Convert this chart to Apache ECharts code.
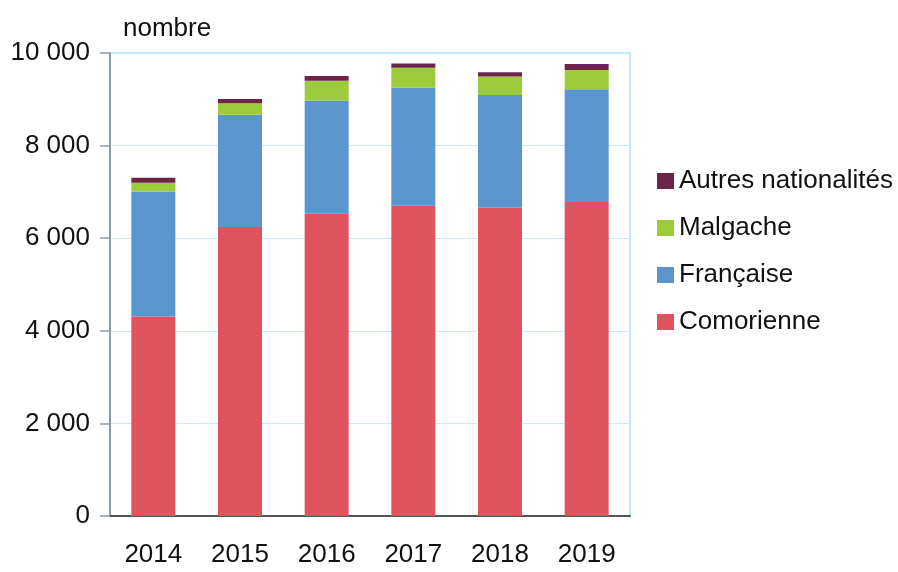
<!DOCTYPE html>
<html>
<head>
<meta charset="utf-8">
<script src="https://cdn.jsdelivr.net/npm/echarts@6/dist/echarts.min.js"></script>
<style>
  html, body { margin: 0; padding: 0; background: #fff; }
  #chart { width: 898px; height: 572px; }
</style>
</head>
<body>
<div id="chart"></div>
<script>
// années
const years = ['2014', '2015', '2016', '2017', '2018', '2019'];
// effectifs par nationalité
const comorienne = [4310, 6240, 6530, 6700, 6655, 6780];
const francaise = [2700, 2424, 2440, 2550, 2440, 2437];
const malgache = [190, 250, 430, 430, 395, 417];
const autres = [105, 95, 104, 95, 95, 130];
const yTicks = [0, 2000, 4000, 6000, 8000, 10000];

const font = "'Liberation Sans', Arial, sans-serif";
const fmt = v => String(v).replace(/\B(?=(\d{3})+(?!\d))/g, ' ');

function bar(name, data, color) {
  return {
    name: name,
    type: 'bar',
    stack: 'total',
    data: data,
    barWidth: 44,
    itemStyle: { color: color }
  };
}

let option = {
  backgroundColor: '#fff',
  animation: false,
  textStyle: { fontFamily: font },
  grid: {
    left: 110, right: 268, top: 53, bottom: 56,
    outerBoundsMode: 'none',
    containLabel: false,
    show: true,
    borderColor: '#bfe9f4',
    borderWidth: 2
  },
  legend: {
    orient: 'vertical',
    left: 652,
    top: 161,
    icon: 'rect',
    itemWidth: 17,
    itemHeight: 16,
    itemGap: 17,
    data: ['Autres nationalités', 'Malgache', 'Française', 'Comorienne'],
    textStyle: { fontFamily: font, fontSize: 26, lineHeight: 30, color: '#111' }
  },
  xAxis: {
    type: 'category',
    data: years,
    axisLine: { lineStyle: { color: '#555', width: 2 } },
    axisTick: { length: 14, lineStyle: { color: '#555', width: 1.5 } },
    axisLabel: { fontFamily: font, fontSize: 26, color: '#111', margin: 26, interval: 0 }
  },
  yAxis: {
    type: 'value',
    min: yTicks[0],
    max: yTicks[yTicks.length - 1],
    interval: 2000,
    name: 'nombre',
    nameLocation: 'end',
    nameGap: 11,
    nameTextStyle: { fontFamily: font, fontSize: 26, color: '#111', align: 'left', padding: [0, 0, 0, 13] },
    axisLine: { show: true, lineStyle: { color: '#8c9aa6', width: 2 } },
    axisTick: { show: true, length: 10, lineStyle: { color: '#8c9aa6', width: 1.5 } },
    axisLabel: { fontFamily: font, fontSize: 26, color: '#111', margin: 20, formatter: fmt },
    splitLine: { lineStyle: { color: '#c6ebf5', width: 1 } }
  },
  series: [
    bar('Comorienne', comorienne, '#e0525d'),
    bar('Française', francaise, '#5b95cf'),
    bar('Malgache', malgache, '#9ccc3c'),
    bar('Autres nationalités', autres, '#6e2448')
  ]
};

const chart = document.getElementById('chart');
let myChart = echarts.init(chart);
myChart.setOption(option);
</script>
</body>
</html>
